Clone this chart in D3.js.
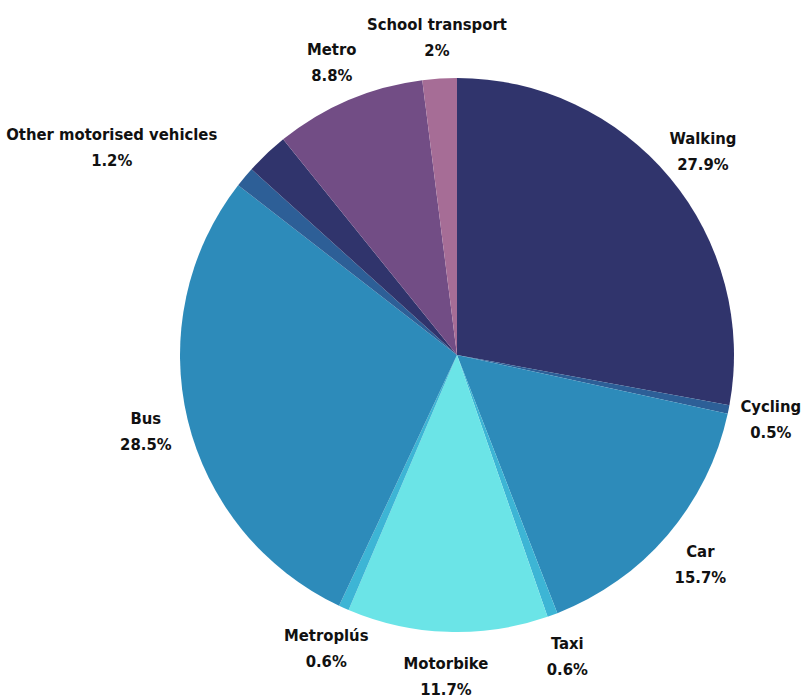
<!DOCTYPE html>
<html lang="en">
<head>
<meta charset="UTF-8">
<script src="https://cdn.jsdelivr.net/npm/d3@7"></script>
<style>
  body { margin: 0; background: #fff; }
  .lbl { font-family: "DejaVu Sans Condensed", "DejaVu Sans", sans-serif; font-stretch: condensed; font-weight: bold; font-size: 16.5px; fill: #111; }
</style>
</head>
<body>
<div id="chart"></div>
<script>
// slices, clockwise from 12 o'clock
const modes = ["Walking", "Cycling", "Car", "Taxi", "Motorbike", "Metroplús", "Bus",
               "Other motorised vehicles", "Other", "Metro", "School transport"];
const shares = [27.9, 0.5, 15.7, 0.6, 11.7, 0.6, 28.5, 1.2, 2.5, 8.8, 2];
const shown = [true, true, true, true, true, true, true, true, false, true, true];
const colors = ["#30346c", "#2d5f97", "#2d8bba", "#3db5d5", "#6be4e7", "#3db5d5", "#2d8bba",
                "#2d5f97", "#30346c", "#724d85", "#a66d96"];

const width = 803, height = 700;
const cx = 457, cy = 355, radius = 277;
const labelR = 320;

const svg = d3.select("#chart").append("svg")
    .attr("width", width)
    .attr("height", height);

const g = svg.append("g").attr("transform", "translate(" + cx + "," + cy + ")");

const data = modes.map((m, i) => ({ name: m, value: shares[i], color: colors[i], shown: shown[i] }));

const pie = d3.pie().value(d => d.value).sort(null);
const arc = d3.arc().innerRadius(0).outerRadius(radius);
const labelArc = d3.arc().innerRadius(labelR).outerRadius(labelR);

const arcs = pie(data);

g.selectAll("path")
  .data(arcs)
  .enter()
  .append("path")
    .attr("d", arc)
    .attr("fill", d => d.data.color);

// label nudges where the chart moved them to avoid overlap
const nudge = { "Other motorised vehicles": [-100, -3] };

const labels = g.selectAll("text.lbl")
  .data(arcs.filter(d => d.data.shown))
  .enter()
  .append("text")
    .attr("class", "lbl")
    .attr("text-anchor", "middle")
    .attr("transform", d => {
      const p = labelArc.centroid(d);
      const n = nudge[d.data.name] || [0, 0];
      return "translate(" + (p[0] + n[0]) + "," + (p[1] + n[1]) + ")";
    });

labels.append("tspan")
    .attr("x", 0)
    .attr("y", -6)
    .text(d => d.data.name);
labels.append("tspan")
    .attr("x", 0)
    .attr("y", 20)
    .text(d => d.data.value + "%");
</script>
</body>
</html>
